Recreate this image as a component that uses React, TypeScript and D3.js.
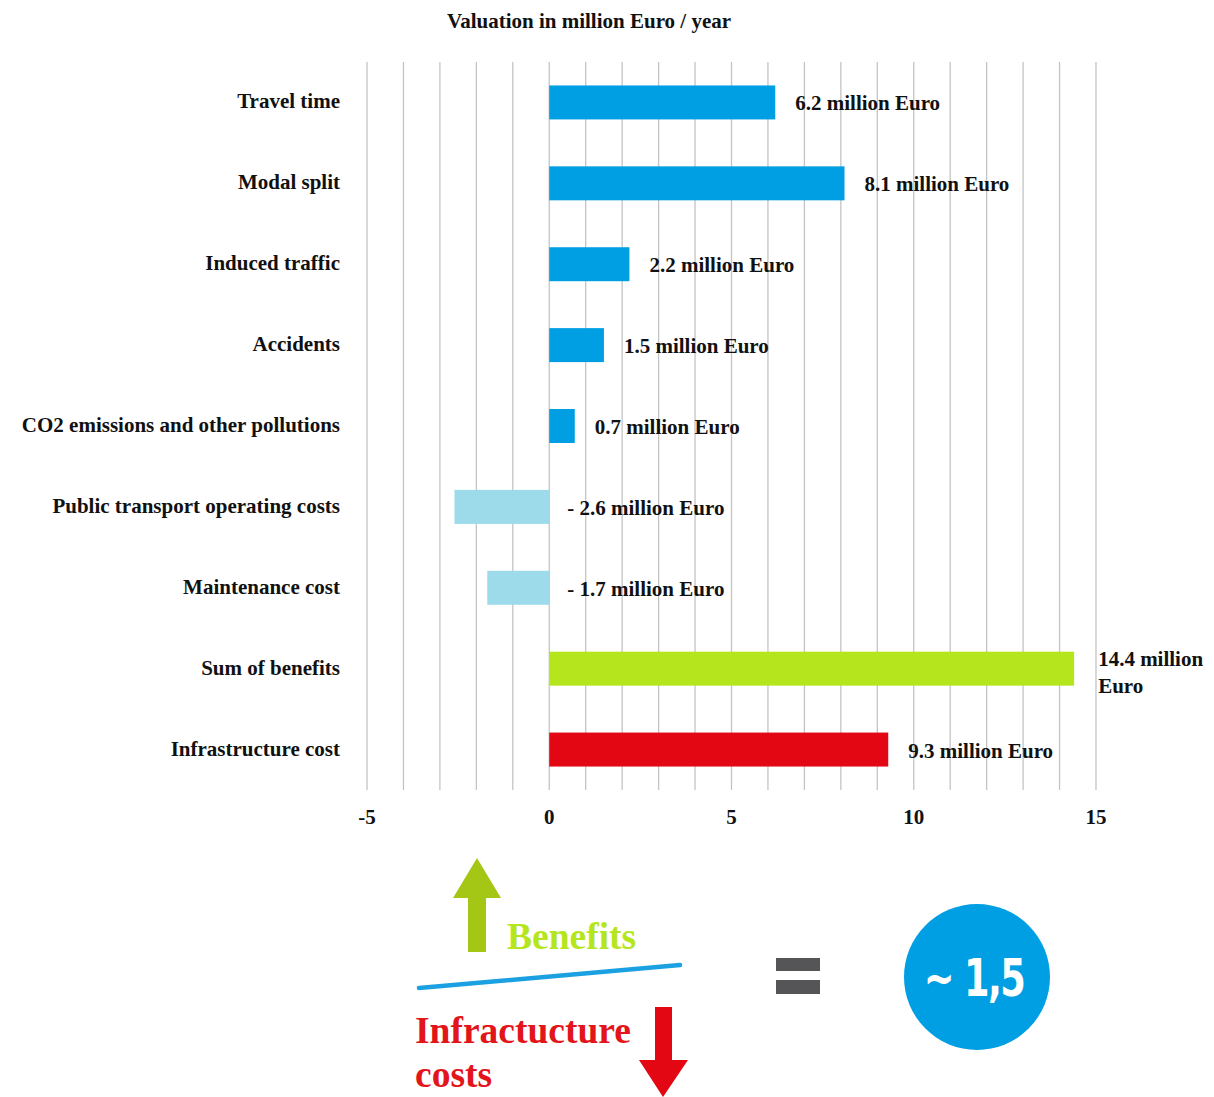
import * as d3 from 'd3'
import React from 'react'

const categories = [
  'Travel time',
  'Modal split',
  'Induced traffic',
  'Accidents',
  'CO2 emissions and other pollutions',
  'Public transport operating costs',
  'Maintenance cost',
  'Sum of benefits',
  'Infrastructure cost',
]
const values = [6.2, 8.1, 2.2, 1.5, 0.7, -2.6, -1.7, 14.4, 9.3]
const barKinds = ['benefit', 'benefit', 'benefit', 'benefit', 'benefit', 'cost', 'cost', 'sum', 'infra']
const valueLabels = [
  ['6.2 million Euro'],
  ['8.1 million Euro'],
  ['2.2 million Euro'],
  ['1.5 million Euro'],
  ['0.7 million Euro'],
  ['- 2.6 million Euro'],
  ['- 1.7 million Euro'],
  ['14.4 million', 'Euro'],
  ['9.3 million Euro'],
]
const tickValues = [-5, 0, 5, 10, 15]
const gridValues = d3.range(-5, 16)
const ratioText = '~ 1,5'

const W = 1214
const H = 1097
const serif = '"Liberation Serif", "Times New Roman", serif'
const fs = 21

const colors: Record<string, string> = {
  benefit: '#009fe3',
  cost: '#9ddaea',
  sum: '#b5e61d',
  infra: '#e30613',
}

export default function App() {
  const x = d3.scaleLinear().domain([-5, 15]).range([367, 1096])
  const y = d3.scaleBand().domain(categories).range([62, 790]).paddingInner(0.58).paddingOuter(0.29)

  return (
    <svg width={W} height={H} style={{ position: 'absolute', left: 0, top: 0, background: '#fff' }}>
      <text x={589} y={28} textAnchor="middle" fontFamily={serif} fontWeight="bold" fontSize={fs} fill="#111">
        Valuation in million Euro / year
      </text>

      {gridValues.map(v => (
        <line key={v} x1={x(v)} x2={x(v)} y1={62} y2={790} stroke="#c4c4c4" strokeWidth={1.3} />
      ))}

      {categories.map((c, i) => {
        const v = values[i]
        const by = y(c)!
        const bh = y.bandwidth()
        const cy = by + bh / 2
        const lx = x(Math.max(v, 0)) + (v >= 0 ? 20 : 18)
        const lines = valueLabels[i]
        return (
          <g key={c}>
            <rect x={x(Math.min(v, 0))} y={by} width={Math.abs(x(v) - x(0))} height={bh} fill={colors[barKinds[i]]} />
            <text x={340} y={cy + 6} textAnchor="end" fontFamily={serif} fontWeight="bold" fontSize={fs} fill="#111">
              {c}
            </text>
            {lines.length === 1 ? (
              <text x={lx} y={cy + 8} fontFamily={serif} fontWeight="bold" fontSize={fs} fill="#111">
                {lines[0]}
              </text>
            ) : (
              <text x={lx + 4} y={by + 14} fontFamily={serif} fontWeight="bold" fontSize={fs} fill="#111">
                <tspan x={lx + 4}>{lines[0]}</tspan>
                <tspan x={lx + 4} dy={27}>{lines[1]}</tspan>
              </text>
            )}
          </g>
        )
      })}

      {tickValues.map(t => (
        <text key={t} x={x(t)} y={824} textAnchor="middle" fontFamily={serif} fontWeight="bold" fontSize={fs} fill="#111">
          {t}
        </text>
      ))}

      {/* benefits arrow */}
      <polygon points="468,952 486,952 486,898 501,898 477,858 453,898 468,898" fill="#a4c615" />
      <text x={507} y={949} fontFamily={serif} fontWeight="bold" fontSize={37.5} fill="#b5e61d">Benefits</text>
      <line x1={419} y1={988} x2={680} y2={965} stroke="#1ba1e2" strokeWidth={4.5} strokeLinecap="round" />

      {/* costs arrow */}
      <text x={415} y={1043} fontFamily={serif} fontWeight="bold" fontSize={37.5} fill="#e3151b">Infractucture</text>
      <text x={415} y={1087} fontFamily={serif} fontWeight="bold" fontSize={37.5} fill="#e3151b">costs</text>
      <polygon points="655,1007 672,1007 672,1060 688,1060 663,1097 639,1060 655,1060" fill="#e30613" />

      {/* equals */}
      <rect x={776} y={958} width={44} height={13} fill="#555557" />
      <rect x={776} y={980} width={44} height={14} fill="#555557" />

      <circle cx={977} cy={977} r={73} fill="#009fe3" />
      <g transform="translate(974,996) scale(0.8,1)">
        <text x={0} y={0} textAnchor="middle" fontFamily='"DejaVu Sans Condensed", "DejaVu Sans", sans-serif' fontWeight="bold" fontSize={51} fill="#fff" letterSpacing={-2}>
          {ratioText}
        </text>
      </g>
    </svg>
  )
}
